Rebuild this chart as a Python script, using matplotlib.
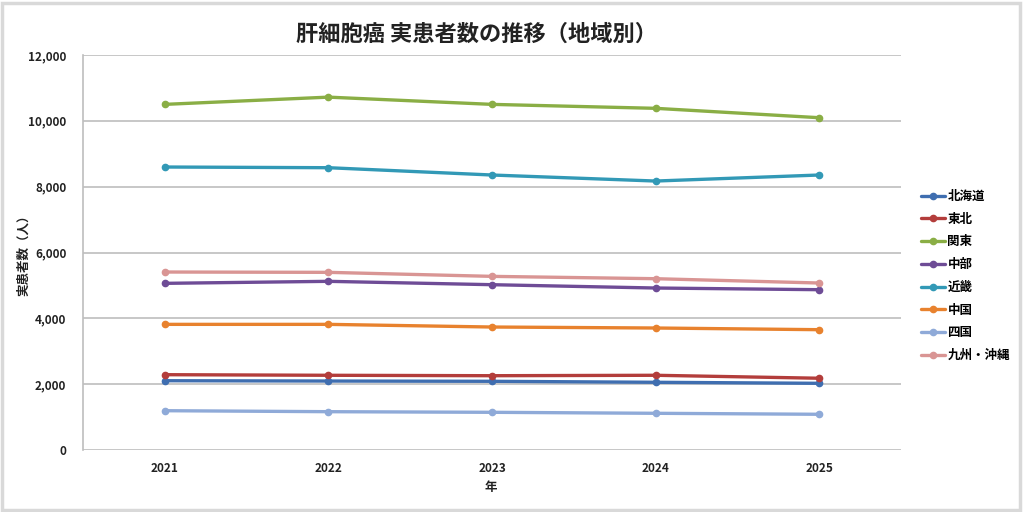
import matplotlib.pyplot as plt
from matplotlib.patches import Rectangle
from matplotlib.ticker import FuncFormatter

plt.rcParams['font.family'] = ['Noto Sans CJK JP', 'DejaVu Sans']

years = ["2021", "2022", "2023", "2024", "2025"]
regions = ["北海道", "東北", "関東", "中部", "近畿", "中国", "四国", "九州・沖縄"]

hokkaido = [2105, 2095, 2087, 2057, 2026]
tohoku = [2288, 2270, 2257, 2270, 2180]
kanto = [10500, 10720, 10500, 10380, 10095]
chubu = [5063, 5124, 5022, 4921, 4870]
kinki = [8597, 8576, 8354, 8171, 8354]
chugoku = [3817, 3817, 3736, 3706, 3655]
shikoku = [1194, 1164, 1145, 1115, 1085]
kyushu = [5407, 5397, 5275, 5204, 5073]

series = [hokkaido, tohoku, kanto, chubu, kinki, chugoku, shikoku, kyushu]
colors = ["#3F6EB0", "#B33D3B", "#8AAE45", "#6E4C96",
          "#3299B6", "#E8822E", "#8FAAD8", "#D99594"]

fig = plt.figure(figsize=(10.24, 5.12), dpi=100)
ax = fig.add_axes([83 / 1024, 62 / 512, 818 / 1024, 395 / 512])

x = list(range(len(years)))
for name, vals, c in zip(regions, series, colors):
    ax.plot(x, vals, color=c, lw=2.4, marker="o", ms=4.5, label=name,
            solid_capstyle="round")

ax.set_xlim(-0.5, len(years) - 0.5)
ax.set_ylim(0, 12000)
ax.set_yticks(range(0, 12001, 2000))
ax.yaxis.set_major_formatter(FuncFormatter(lambda v, p: f"{int(v):,}"))
ax.set_xticks(x)
ax.set_xticklabels(years)
ax.grid(axis="y", color="#BEBEBE", lw=1.2)
ax.set_axisbelow(True)
for s in ["top", "right", "bottom"]:
    ax.spines[s].set_visible(False)
ax.spines["left"].set_color("#BEBEBE")
ax.spines["left"].set_linewidth(1.2)
ax.tick_params(length=0, labelsize=8.5)
ax.tick_params(axis="y", pad=12)
ax.tick_params(axis="x", pad=9)
for t in ax.get_xticklabels() + ax.get_yticklabels():
    t.set_fontweight("bold")
    t.set_color("#222222")

# axis titles placed in figure pixels
fig.text(24 / 1024, 1 - 252 / 512, "実患者数（人）", rotation=90, ha="center", va="center",
         fontsize=9, fontweight="bold", color="#222222")
fig.text(491 / 1024, 1 - 487 / 512, "年", ha="center", va="center",
         fontsize=9, fontweight="bold", color="#222222")

fig.text(477 / 1024, 1 - 34 / 512, "肝細胞癌 実患者数の推移（地域別）", ha="center", va="center",
         fontsize=16, fontweight="bold", color="#222222")

leg = ax.legend(loc="center left", bbox_to_anchor=(910 / 1024, 236 / 512),
                bbox_transform=fig.transFigure, frameon=False, fontsize=9,
                handlelength=1.9, labelspacing=0.78, handletextpad=0.2)
for t in leg.get_texts():
    t.set_fontweight("bold")

fig.patches.append(Rectangle((0.002, 0.004), 0.994, 0.99, transform=fig.transFigure,
                             fill=False, edgecolor="#D9D9D9", lw=2.5))

fig.savefig("out.png", dpi=100)
